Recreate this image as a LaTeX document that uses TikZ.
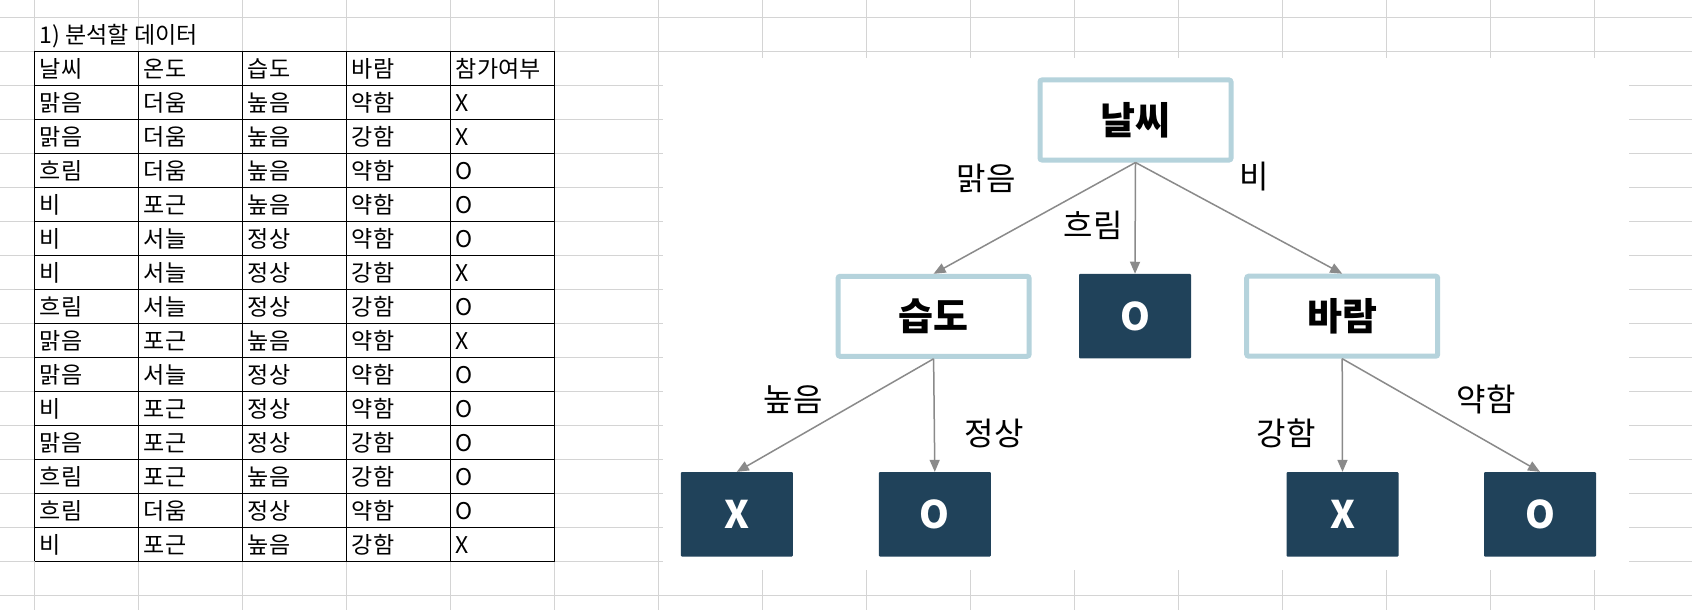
\documentclass[tikz,border=0pt]{standalone}
\usepackage{fontspec}
\newfontfamily\kr{Noto Sans CJK KR}
\usetikzlibrary{arrows.meta}
\definecolor{gridc}{HTML}{D4D4D4}
\definecolor{lblue}{HTML}{B5D3DC}
\definecolor{navy}{HTML}{20425A}
\definecolor{arr}{HTML}{8A8A8A}
\tikzset{
  cell/.style={anchor=base west, inner sep=0pt, font=\kr\fontsize{23}{23}\selectfont},
  title/.style={anchor=base west, inner sep=0pt, font=\kr\fontsize{23}{23}\selectfont},
  dnode/.style={draw=lblue, line width=5pt, fill=white, minimum width=191pt, minimum height=80pt, rounded corners=2pt, inner sep=0pt, font=\kr\bfseries\fontsize{38}{38}\selectfont},
  leaf/.style={fill=navy, minimum width=112pt, minimum height=84.5pt, inner sep=0pt, text=white, rounded corners=1pt, font=\kr\bfseries\fontsize{38}{38}\selectfont},
  elabel/.style={inner sep=0pt, font=\kr\fontsize{32}{32}\selectfont},
  conn/.style={draw=arr, line width=1.5pt, -{Triangle[length=12pt,width=10pt]}}
}
\begin{document}
\begin{tikzpicture}[x=1pt,y=-1pt]
\useasboundingbox (0,0) rectangle (1692,610);
\fill[white] (0,0) rectangle (1692,610);
% spreadsheet grid
\foreach \i in {0,...,17} \draw[gridc, line width=1.2pt] (0,17.3+34*\i) -- (1692,17.3+34*\i);
\foreach \i in {0,...,15} \draw[gridc, line width=1.2pt] (34.7+104*\i,0) -- (34.7+104*\i,610);
% embedded picture area
\fill[white] (663,58.3) rectangle (1628.7,570);
% title
\node[title] (ttl) at (39.5,43.5) {1) 분석할 데이터};
% table borders
\foreach \i in {0,...,15} \draw[black, line width=1.3pt] (34.7,51.3+34*\i) -- (554.7,51.3+34*\i);
\foreach \i in {0,...,5} \draw[black, line width=1.3pt] (34.7+104*\i,51.3) -- (34.7+104*\i,561.3);
% table text
\foreach \row [count=\r] in {
  {날씨,온도,습도,바람,참가여부},
  {맑음,더움,높음,약함,X},
  {맑음,더움,높음,강함,X},
  {흐림,더움,높음,약함,O},
  {비,포근,높음,약함,O},
  {비,서늘,정상,약함,O},
  {비,서늘,정상,강함,X},
  {흐림,서늘,정상,강함,O},
  {맑음,포근,높음,약함,X},
  {맑음,서늘,정상,약함,O},
  {비,포근,정상,약함,O},
  {맑음,포근,정상,강함,O},
  {흐림,포근,높음,강함,O},
  {흐림,더움,정상,약함,O},
  {비,포근,높음,강함,X}} {
  \foreach \cellt [count=\c] in \row {
    \node[cell] (t-\r-\c) at (34.7+104*\c-104+5, 51.3+34*\r-34+26.5) {\cellt};
  }
}
% decision tree
\node[dnode] (w) at (1135.5,120) {날씨};
\node[dnode] (h) at (933.6,316.3) {습도};
\node[leaf] (c) at (1135,316.2) {O};
\node[dnode] (wd) at (1342.2,316.2) {바람};
\node[leaf] (hx) at (736.8,514.3) {X};
\node[leaf] (ho) at (934.8,514.3) {O};
\node[leaf] (wx) at (1342.5,514.3) {X};
\node[leaf] (wo) at (1540,514.3) {O};
\draw[conn] (w.south) -- (h.north);
\draw[conn] (w.south) -- (c.north);
\draw[conn] (w.south) -- (wd.north);
\draw[conn] (h.south) -- (hx.north);
\draw[conn] (h.south) -- (ho.north);
\draw[conn] (wd.south) -- (wx.north);
\draw[conn] (wd.south) -- (wo.north);
\node[elabel] (l1) at (986,178) {맑음};
\node[elabel] (l2) at (1093,225) {흐림};
\node[elabel] (l3) at (1254,177) {비};
\node[elabel] (l4) at (793,400) {높음};
\node[elabel] (l5) at (994,433) {정상};
\node[elabel] (l6) at (1286,433) {강함};
\node[elabel] (l7) at (1486,399) {약함};
\end{tikzpicture}
\end{document}
